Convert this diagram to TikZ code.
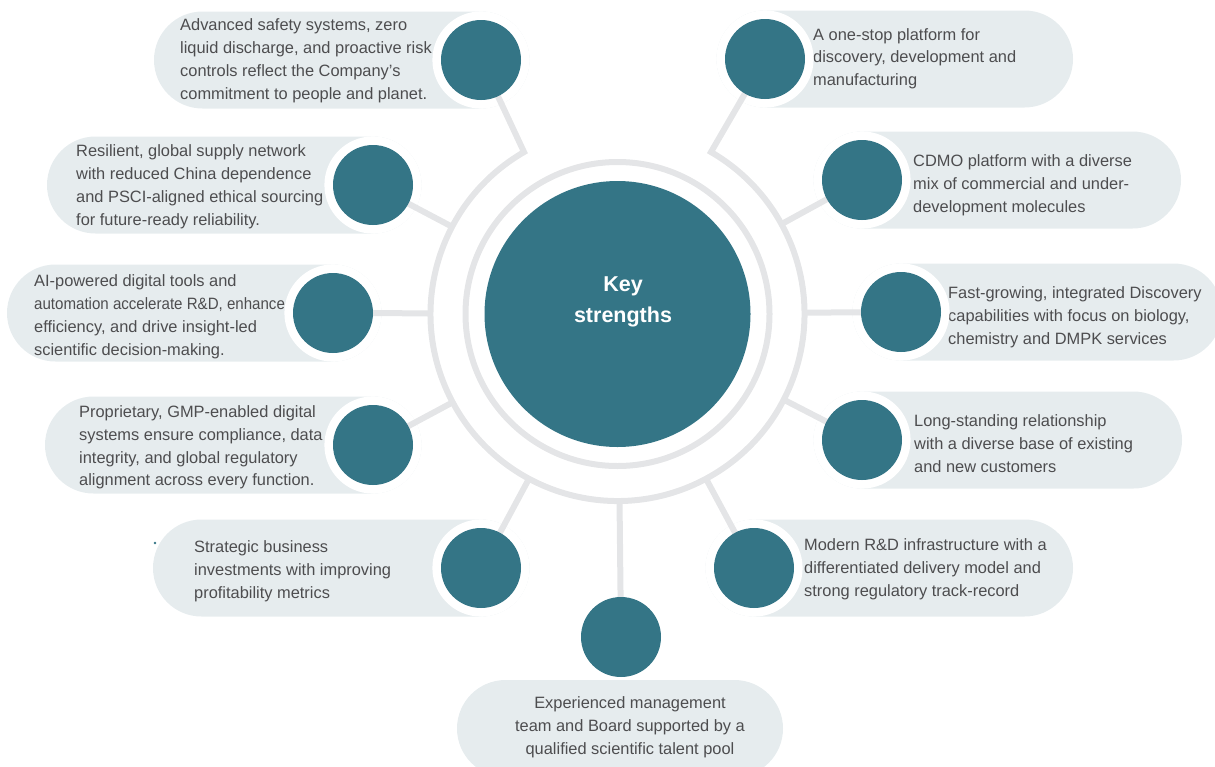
\documentclass[tikz,border=0pt]{standalone}
\usepackage{fontspec}
\setmainfont{Liberation Sans}
\newfontfamily\narrowfont{Liberation Sans}[FakeStretch=0.92]
\usetikzlibrary{calc}
\pgfdeclarelayer{back}
\pgfdeclarelayer{mid}
\pgfsetlayers{back,mid,main}
\definecolor{tealc}{HTML}{347586}
\definecolor{pillc}{HTML}{E6ECEE}
\definecolor{ringc}{HTML}{E4E5E7}
\definecolor{txtc}{HTML}{4D4D4F}
\begin{document}
\begin{tikzpicture}[x=1pt,y=-1pt,
  dot/.style={circle,fill=tealc,minimum size=80pt,inner sep=0pt},
  hub/.style={circle,fill=tealc,minimum size=266pt,inner sep=0pt},
  lbl/.style={anchor=west,align=left,inner sep=0pt,text=txtc,font=\fontsize{16.4}{22.8}\selectfont},
  pill/.style={fill=pillc,rounded corners=48.5pt},
  halo/.style={fill=white},
  spoke/.style={draw=ringc,line width=6pt},
]
\useasboundingbox (0,0) rectangle (1215,766);

% hub and feature circles
\node[hub] (C) at (617.5,314) {};
\node[text=white,font=\bfseries\fontsize{21.5}{31}\selectfont,align=center,inner sep=0pt] (key) at (623,301.5) {Key\\strengths};
\node[dot] (n1) at (481,60) {};
\node[dot] (n2) at (765,59) {};
\node[dot] (n3) at (373,185) {};
\node[dot] (n4) at (862,180) {};
\node[dot] (n5) at (333,313) {};
\node[dot] (n6) at (901,312) {};
\node[dot] (n7) at (373,445) {};
\node[dot] (n8) at (862,440) {};
\node[dot] (n9) at (481,568) {};
\node[dot] (n10) at (754,568) {};
\node[dot] (n11) at (621,637) {};

\begin{pgfonlayer}{back}
\fill[pill] (154,11.5) rectangle (529.5,108.5);
\fill[pill] (716.5,10.5) rectangle (1073,107.5);
\fill[pill] (47,136.5) rectangle (421.5,233.5);
\fill[pill] (813.5,131.5) rectangle (1181,228.5);
\fill[pill] (7,264.5) rectangle (381.5,361.5);
\fill[pill] (852.5,263.5) rectangle (1222,360.5);
\fill[pill] (45,396.5) rectangle (421.5,493.5);
\fill[pill] (813.5,391.5) rectangle (1182,488.5);
\fill[pill] (153,519.5) rectangle (529.5,616.5);
\fill[pill] (705.5,519.5) rectangle (1073,616.5);
\fill[pill] (457,680) rectangle (783,777);
\fill[tealc] (155,543) circle[radius=1.3];

\node[lbl] (t1) at (180,60.7) {Advanced safety systems, zero\\liquid discharge, and proactive risk\\controls reflect the Company’s\\commitment to people and planet.};
\node[lbl] (t2) at (813,58.6) {A one-stop platform for\\discovery, development and\\manufacturing};
\node[lbl] (t3) at (76,186.9) {Resilient, global supply network\\with reduced China dependence\\and PSCI-aligned ethical sourcing\\for future-ready reliability.};
\node[lbl] (t4) at (913,185.3) {CDMO platform with a diverse\\mix of commercial and under-\\development molecules};
\node[lbl] (t5) at (34,316.8) {AI-powered digital tools and\\{\narrowfont automation accelerate R\&D, enhance}\\efficiency, and drive insight-led\\scientific decision-making.};
\node[lbl] (t6) at (948,317) {Fast-growing, integrated Discovery\\capabilities with focus on biology,\\chemistry and DMPK services};
\node[lbl] (t7) at (79,447.5) {Proprietary, GMP-enabled digital\\systems ensure compliance, data\\integrity, and global regulatory\\alignment across every function.};
\node[lbl] (t8) at (914,443.8) {Long-standing relationship\\with a diverse base of existing\\and new customers};
\node[lbl] (t9) at (194,571) {Strategic business\\investments with improving\\profitability metrics};
\node[lbl] (t10) at (804,569.3) {Modern R\&D infrastructure with a\\differentiated delivery model and\\strong regulatory track-record};
\node[lbl,anchor=center,align=center] (t11) at (630,727.5) {Experienced management\\team and Board supported by a\\qualified scientific talent pool};
\end{pgfonlayer}

\begin{pgfonlayer}{mid}
\foreach \n in {n1,n2,n3,n4,n5,n6,n7,n8,n9,n10}
  \fill[halo] (\n.center) circle[radius=48.6];
\draw[spoke] (C.center) circle[radius=152];
\draw[spoke,line join=miter] (n1.center) -- ($(C)+(-120:187)$) arc[start angle=-120,end angle=-420,radius=187] -- (n2.center);
\foreach \n in {n3,n4,n5,n6,n7,n8,n9,n10,n11}
  \draw[spoke] ($(C)!187pt!(\n)$) -- (\n.center);
\end{pgfonlayer}
\end{tikzpicture}
\end{document}
